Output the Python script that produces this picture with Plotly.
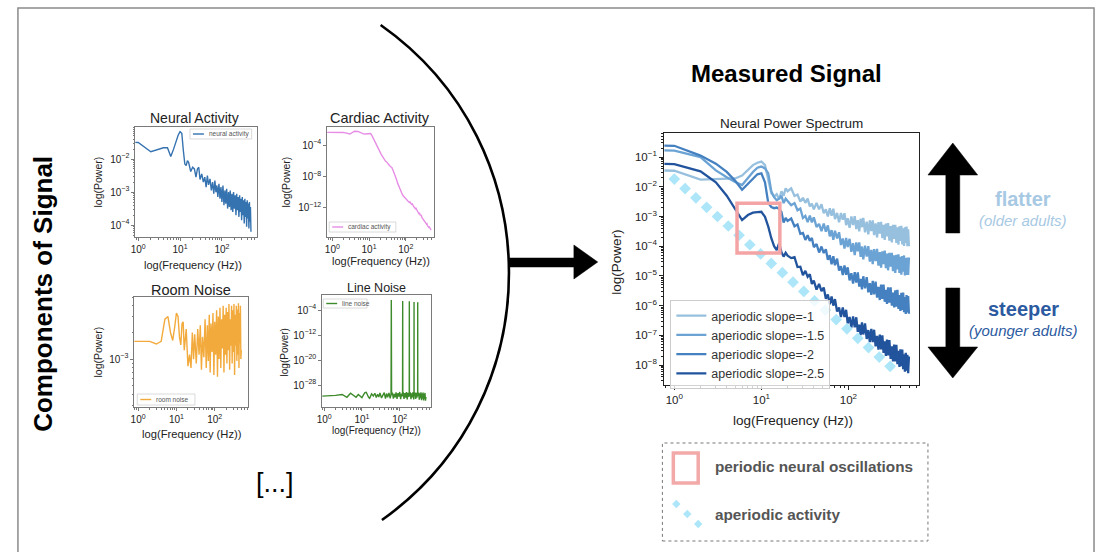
import plotly.graph_objects as go

W, H = 1099, 552
FONT = "Liberation Sans, Arial, Helvetica, sans-serif"

# ---------------- data (log10 power values) ----------------
F_MAIN = [0.5, 1, 2, 3, 4, 5, 6, 7, 8, 9, 10, 11, 12, 13, 14, 15, 16, 17, 18, 19, 20,
          22, 24, 26, 28, 30, 32, 34, 36, 38, 40,
          43, 46, 49, 52, 55, 58, 61, 64, 67, 70,
          74, 78, 82, 86, 90, 94, 98,
          103, 108, 113, 118, 123, 128, 133, 138, 143, 148,
          155, 162, 169, 176, 183, 190, 197,
          205, 213, 221, 229, 237, 245, 253, 261, 269, 277, 285,
          295, 305, 315, 325, 335, 345, 355, 365, 375, 385, 395,
          405, 415, 425, 435, 445, 455, 465, 475, 485, 495]

LOG_SLOPE_1 = [-1.44, -1.46, -1.76, -1.74, -1.74, -1.72, -1.62, -1.44, -1.27, -1.19, -1.15,
               -1.27, -1.77, -2.22, -2.33, -2.25, -2.42, -2.15, -2.30, -2.05, -2.15,
               -2.05, -2.31, -2.26, -2.50, -2.37, -2.54, -2.40, -2.66, -2.57, -2.76,
               -2.54, -2.76, -2.59, -2.89, -2.76, -3.00, -2.72, -2.97, -2.74, -3.09,
               -2.88, -3.19, -2.88, -3.11, -2.89, -3.29, -3.06,
               -3.38, -3.00, -3.29, -2.99, -3.42, -3.12, -3.50, -3.07, -3.36, -3.05,
               -3.53, -3.17, -3.60, -3.13, -3.49, -3.13, -3.63,
               -3.23, -3.70, -3.19, -3.58, -3.18, -3.73, -3.28, -3.79, -3.24, -3.67, -3.22,
               -3.81, -3.32, -3.87, -3.28, -3.75, -3.28, -3.89, -3.36, -3.95, -3.33, -3.82,
               -3.31, -3.94, -3.40, -3.99, -3.36, -3.89, -3.34, -4.00, -3.43, -4.00]

LOG_SLOPE_15 = [-0.76, -0.78, -1.00, -1.45, -1.68, -1.84, -1.94, -1.70, -1.50, -1.36, -1.32,
                -1.38, -1.55, -2.15, -2.35, -2.45, -2.40, -2.30, -2.55, -2.40, -2.48,
                -2.62, -2.55, -2.79, -2.73, -3.05, -2.98, -3.19, -2.97, -3.20, -3.03,
                -3.35, -3.25, -3.49, -3.24, -3.51, -3.30, -3.67, -3.46, -3.78, -3.48,
                -3.74, -3.53, -3.96, -3.74, -4.08, -3.72, -4.03,
                -3.75, -4.19, -3.90, -4.30, -3.87, -4.17, -3.87, -4.36, -4.01, -4.44,
                -3.98, -4.35, -4.00, -4.52, -4.12, -4.60, -4.10,
                -4.50, -4.09, -4.65, -4.20, -4.72, -4.17, -4.60, -4.15, -4.74, -4.25, -4.81,
                -4.22, -4.69, -4.22, -4.84, -4.31, -4.90, -4.29, -4.78, -4.27, -4.90, -4.36,
                -4.96, -4.33, -4.86, -4.31, -4.98, -4.40, -4.97, -4.38, -4.97, -4.38]

LOG_SLOPE_2 = [-0.60, -0.62, -0.95, -1.22, -1.50, -1.80, -2.10, -1.90, -1.70, -1.58, -1.55,
               -1.85, -2.55, -2.68, -2.72, -2.70, -2.75, -2.85, -3.20, -3.05, -3.15,
               -3.07, -3.33, -3.27, -3.58, -3.55, -3.79, -3.63, -3.82, -3.72, -4.03,
               -3.93, -4.21, -4.01, -4.23, -4.10, -4.46, -4.30, -4.61, -4.34, -4.64,
               -4.42, -4.82, -4.67, -4.97, -4.65, -4.96, -4.71,
               -5.15, -4.91, -5.26, -4.87, -5.22, -4.88, -5.36, -5.10, -5.45, -5.01,
               -5.42, -5.04, -5.55, -5.24, -5.64, -5.17, -5.62,
               -5.19, -5.73, -5.37, -5.81, -5.29, -5.77, -5.29, -5.87, -5.47, -5.94, -5.38,
               -5.90, -5.38, -6.00, -5.56, -6.06, -5.48, -6.03, -5.47, -6.11, -5.64, -6.18,
               -5.57, -6.14, -5.56, -6.22, -5.71, -6.28, -5.64, -6.23, -5.68, -6.27]

LOG_SLOPE_25 = [-1.21, -1.24, -1.48, -1.85, -2.30, -2.75, -3.12, -2.95, -2.87, -2.85, -2.84,
                -3.01, -3.34, -3.73, -4.00, -4.13, -3.90, -4.20, -4.35, -4.22, -4.32,
                -4.40, -4.37, -4.70, -4.69, -4.97, -4.83, -5.03, -4.94, -5.27, -5.16,
                -5.46, -5.27, -5.51, -5.39, -5.77, -5.62, -5.95, -5.69, -6.00, -5.78,
                -6.20, -6.06, -6.38, -6.06, -6.38, -6.14, -6.60,
                -6.38, -6.74, -6.36, -6.73, -6.39, -6.88, -6.64, -6.99, -6.56, -6.97,
                -6.60, -7.12, -6.82, -7.23, -6.78, -7.23, -6.81,
                -7.37, -7.02, -7.48, -6.97, -7.47, -7.00, -7.59, -7.20, -7.69, -7.14, -7.67,
                -7.16, -7.79, -7.37, -7.88, -7.31, -7.88, -7.32, -7.97, -7.52, -8.06, -7.47,
                -8.04, -7.48, -8.14, -7.64, -8.22, -7.59, -8.19, -7.65, -8.27, -7.71]

SLOPE_NAMES = ["aperiodic slope=-1", "aperiodic slope=-1.5", "aperiodic slope=-2", "aperiodic slope=-2.5"]

# aperiodic (1/f) reference diamonds
AP_FREQ = [1.00, 1.33, 1.77, 2.35, 3.13, 4.17, 5.54, 7.37, 9.80, 13.0, 17.4,
           23.1, 30.7, 40.8, 54.3, 72.3, 96.1, 128, 170, 226, 301]
AP_LOG_POWER = [-1.74, -2.06, -2.37, -2.69, -3.00, -3.32, -3.63, -3.95, -4.26, -4.58, -4.89,
                -5.21, -5.52, -5.84, -6.15, -6.47, -6.78, -7.10, -7.41, -7.73, -8.04]

# periodic oscillation highlight (Hz, power)
PERIODIC_BOX_HZ = [5.25, 16.3]
PERIODIC_BOX_POWER = [5.9e-5, 2.8e-3]

# component spectra
F_SMALL = [0.5, 1, 2, 3, 4, 5, 6, 7, 8, 9,
           10, 11, 12, 13, 14, 15, 16, 18, 20, 22,
           24, 26, 28, 30, 33, 36, 39, 42, 45, 48,
           52, 56, 60, 64, 68, 72, 76, 80, 85, 90,
           95, 100, 106, 112, 118, 124, 130, 137, 144, 151,
           158, 166, 174, 182, 190, 199, 208, 217, 226, 235,
           245, 255, 265, 275, 285, 296, 307, 318, 330, 342,
           354, 366, 378, 390, 403, 416, 429, 442, 455, 468,
           481, 495]

LOG_NEURAL = [-1.48, -1.50, -1.78, -1.70, -1.66, -1.66, -1.92, -1.70, -1.45, -1.28,
              -1.17, -1.22, -1.75, -2.15, -2.20, -2.05, -2.10, -2.38, -2.25, -2.30,
              -2.55, -2.30, -2.25, -2.62, -2.45, -2.70, -2.55, -2.85, -2.50, -2.78,
              -2.60, -2.95, -2.70, -3.05, -2.65, -3.00, -2.80, -3.15, -2.75, -3.20,
              -2.85, -3.30, -2.80, -3.40, -2.95, -3.35, -2.90, -3.50, -3.00, -3.45,
              -2.95, -3.55, -3.05, -3.60, -3.00, -3.50, -3.10, -3.70, -3.05, -3.55,
              -3.15, -3.75, -3.10, -3.60, -3.20, -3.85, -3.15, -3.70, -3.25, -3.95,
              -3.20, -3.75, -3.30, -4.05, -3.25, -3.80, -3.35, -4.10, -3.30, -3.90,
              -3.45, -4.20]

LOG_CARDIAC = [-2.39, -2.39, -2.40, -2.60, -2.25, -2.28, -2.45, -2.58, -2.60, -2.55,
               -2.50, -2.55, -2.80, -3.10, -3.40, -3.65, -3.95, -4.50, -4.90, -5.30,
               -5.60, -5.85, -6.05, -6.15, -6.45, -6.60, -6.78, -6.90, -7.20, -7.50,
               -7.95, -8.40, -8.85, -9.20, -9.55, -9.80, -10.05, -10.25, -10.45, -10.60,
               -10.75, -10.85, -11.00, -11.10, -11.20, -11.30, -11.25, -11.45, -11.55, -11.50,
               -11.75, -11.85, -11.95, -12.10, -12.05, -12.30, -12.45, -12.55, -12.70, -12.60,
               -12.90, -13.00, -12.95, -13.20, -13.30, -13.45, -13.40, -13.65, -13.75, -13.70,
               -13.90, -14.05, -14.00, -14.25, -14.35, -14.30, -14.50, -14.45, -14.65, -14.60,
               -14.75, -14.70]

LOG_ROOM = [-2.80, -2.80, -2.80, -2.83, -2.80, -2.55, -2.52, -2.70, -2.79, -2.64,
            -2.48, -2.52, -2.75, -2.84, -2.60, -2.58, -2.90, -2.66, -3.08, -2.95,
            -3.10, -2.70, -3.00, -2.72, -3.05, -2.66, -2.95, -2.62, -3.12, -2.75,
            -2.98, -2.55, -3.10, -2.62, -3.02, -2.50, -3.15, -2.60, -2.92, -2.48,
            -3.18, -2.58, -2.95, -2.45, -3.20, -2.52, -3.00, -2.42, -3.10, -2.55,
            -2.88, -2.40, -3.15, -2.50, -2.95, -2.42, -3.05, -2.47, -2.90, -2.38,
            -3.12, -2.55, -2.85, -2.40, -3.05, -2.45, -2.92, -2.38, -3.18, -2.50,
            -2.85, -2.40, -3.02, -2.44, -2.95, -2.37, -3.10, -2.48, -2.82, -2.40,
            -3.00, -2.90]

F_LINE = [0.5, 1, 2, 3, 4, 5, 6, 7, 8, 9,
          10, 11, 12, 13, 14, 15, 16, 18, 20, 22,
          24, 26, 28, 30, 33, 36, 39, 42, 45, 48,
          52, 56, 59, 60, 61, 64, 68, 72, 76, 80,
          85, 90, 95, 100, 106, 112, 119, 120, 121, 124,
          130, 137, 144, 151, 158, 166, 174, 179, 180, 181,
          190, 199, 208, 217, 226, 235, 239, 240, 241, 255,
          265, 275, 285, 296, 299, 300, 301, 318, 330, 342,
          354, 366, 378, 390, 403, 416, 429, 442, 455, 468,
          481, 495]

LOG_LINE = [-31.7, -31.6, -31.3, -31.0, -31.9, -30.6, -31.2, -31.9, -31.0, -31.4,
            -32.0, -31.1, -30.4, -30.3, -31.2, -31.9, -32.2, -30.8, -31.5, -30.6,
            -32.0, -30.9, -31.8, -30.5, -32.1, -31.0, -30.4, -32.3, -30.7, -31.9,
            -30.5, -32.2, -31.0, -0.8, -31.2, -30.4, -32.3, -30.8, -31.9, -30.3,
            -32.4, -30.6, -31.7, -30.2, -32.5, -30.7, -31.6, -1.1, -31.4, -30.3,
            -32.4, -30.6, -32.0, -30.2, -32.6, -30.5, -31.8, -30.9, -1.2, -31.5,
            -30.3, -32.5, -30.6, -31.9, -30.2, -32.6, -31.0, -1.4, -31.3, -30.4,
            -32.4, -30.5, -32.0, -30.3, -31.2, -1.5, -31.5, -30.4, -32.7, -30.6,
            -32.2, -30.3, -32.8, -30.7, -32.3, -30.4, -32.9, -30.8, -32.4, -30.5,
            -33.0, -31.8]

# ---------------- helpers ----------------
def px(x):
    return x / W


def py(y):
    return 1 - y / H


def pw(v):
    return [10 ** e for e in v]


def sup(e):
    s = str(e).replace("-", "\u2212")
    return "10<sup>" + s + "</sup>"


def minors(lo, hi):
    out = []
    for e in range(lo, hi + 1):
        for m in range(2, 10):
            out.append(m * 10.0 ** e)
    return out


fig = go.Figure()

MAIN_COLORS = ["#97c0de", "#6ba3d4", "#4580c0", "#22549e"]
for name, vals, col in zip(SLOPE_NAMES, [LOG_SLOPE_1, LOG_SLOPE_15, LOG_SLOPE_2, LOG_SLOPE_25], MAIN_COLORS):
    fig.add_trace(go.Scatter(x=F_MAIN, y=pw(vals), mode="lines", name=name,
                             line=dict(color=col, width=2.3), xaxis="x5", yaxis="y5",
                             showlegend=True))
fig.add_trace(go.Scatter(x=AP_FREQ, y=pw(AP_LOG_POWER), mode="markers", name="aperiodic activity",
                         marker=dict(symbol="diamond", size=9, color="#ade6f9", line=dict(width=0)),
                         xaxis="x5", yaxis="y5", showlegend=False))

small = [
    (F_SMALL, LOG_NEURAL, "#3572b0", "x", "y"),
    (F_SMALL, LOG_CARDIAC, "#e78de6", "x2", "y2"),
    (F_SMALL, LOG_ROOM, "#f3aa3c", "x3", "y3"),
    (F_LINE, LOG_LINE, "#3e8b2c", "x4", "y4"),
]
for fx, vals, col, xa, ya in small:
    fig.add_trace(go.Scatter(x=fx, y=pw(vals), mode="lines", line=dict(color=col, width=1.4),
                             xaxis=xa, yaxis=ya, showlegend=False, hoverinfo="skip"))

# ---------------- axes ----------------
def axes(n, box, xr, yr, ytv, small_ax=True, yminor=None, xminor=True):
    x0, x1, y0, y1 = box  # pixel box: left, right, top, bottom
    lc = "#7a7a7a" if small_ax else "#222222"
    tf = dict(family=FONT, size=10 if small_ax else 11.5, color="#222")
    sx = "" if n == 1 else str(n)
    xa = dict(type="log", range=xr, domain=[px(x0), px(x1)], anchor="y" + sx,
              showline=True, mirror=True, linecolor=lc, linewidth=1 if small_ax else 1.3,
              ticks="outside", ticklen=3 if small_ax else 4, tickcolor=lc, tickwidth=1,
              tickmode="array", tickvals=[1, 10, 100], ticktext=[sup(0), sup(1), sup(2)],
              tickfont=tf, showgrid=False, zeroline=False)
    if xminor:
        xa["minor"] = dict(tickmode="array", tickvals=minors(-1, 2), ticks="outside",
                           ticklen=1.6 if small_ax else 2.2, tickcolor=lc, showgrid=False)
    ya = dict(type="log", range=yr, domain=[py(y1), py(y0)], anchor="x" + sx,
              showline=True, mirror=True, linecolor=lc, linewidth=1 if small_ax else 1.3,
              ticks="outside", ticklen=3 if small_ax else 4, tickcolor=lc, tickwidth=1,
              tickmode="array", tickvals=[10.0 ** e for e in ytv], ticktext=[sup(e) for e in ytv],
              tickfont=tf, showgrid=False, zeroline=False)
    if yminor is not None:
        ya["minor"] = dict(tickmode="array", tickvals=minors(*yminor), ticks="outside",
                           ticklen=1.6 if small_ax else 2.2, tickcolor=lc, showgrid=False)
    return {"xaxis" + sx: xa, "yaxis" + sx: ya}


lay = {}
lay.update(axes(1, (130, 252, 127, 237), [-0.07, 2.83], [-4.36, -1.03], [-2, -3, -4], yminor=(-5, -2)))
lay.update(axes(2, (323, 430, 127, 237), [-0.14, 2.76], [-15.7, -1.71], [-4, -8, -12]))
lay.update(axes(3, (129, 243, 297, 407), [-0.10, 2.86], [-3.54, -2.30], [-3], yminor=(-4, -3)))
lay.update(axes(4, (318, 427, 295, 407), [-0.05, 2.82], [-35, 0.8], [-4, -12, -20, -28]))
lay.update(axes(5, (662, 918, 133, 385), [-0.114, 2.81], [-8.67, -0.19],
                [-1, -2, -3, -4, -5, -6, -7, -8], small_ax=False, yminor=(-9, -1)))
fig.update_layout(**lay)

# ---------------- shapes ----------------
shapes = []
# outer frame
shapes.append(dict(type="rect", xref="paper", yref="paper", x0=px(12), x1=px(1094), y0=py(8), y1=py(620),
                   line=dict(color="#8a8a8a", width=1.5), fillcolor="rgba(0,0,0,0)", layer="below"))
# arc
shapes.append(dict(type="path", xref="paper", yref="paper",
                   path="M %f,%f C %f,%f %f,%f %f,%f" % (px(376.7), py(25), px(548.5), py(145),
                                                        px(548.5), py(400), px(378), py(520)),
                   line=dict(color="black", width=2.6)))
# horizontal arrow
pts = [(506, 258), (571, 258), (571, 245), (595, 262), (571, 279), (571, 267), (506, 267)]
shapes.append(dict(type="path", xref="paper", yref="paper",
                   path="M " + " L ".join("%f,%f" % (px(a), py(b)) for a, b in pts) + " Z",
                   fillcolor="black", line=dict(color="black", width=0.5)))
# up arrow
pts = [(952, 143), (977, 175), (959, 175), (959, 233), (945, 233), (945, 175), (927, 175)]
shapes.append(dict(type="path", xref="paper", yref="paper",
                   path="M " + " L ".join("%f,%f" % (px(a), py(b)) for a, b in pts) + " Z",
                   fillcolor="black", line=dict(color="black", width=0.5)))
# down arrow
pts = [(945, 288), (959, 288), (959, 347), (977, 347), (952, 378), (927, 347), (945, 347)]
shapes.append(dict(type="path", xref="paper", yref="paper",
                   path="M " + " L ".join("%f,%f" % (px(a), py(b)) for a, b in pts) + " Z",
                   fillcolor="black", line=dict(color="black", width=0.5)))
# periodic box on main plot (data coords)
shapes.append(dict(type="rect", xref="x5", yref="y5", x0=PERIODIC_BOX_HZ[0], x1=PERIODIC_BOX_HZ[1],
                   y0=PERIODIC_BOX_POWER[0], y1=PERIODIC_BOX_POWER[1],
                   line=dict(color="#f4a4a4", width=3.5), fillcolor="rgba(0,0,0,0)"))
# bottom key box
shapes.append(dict(type="rect", xref="paper", yref="paper", x0=px(660), x1=px(927), y0=py(541), y1=py(443),
                   line=dict(color="#777", width=1, dash="dot"), fillcolor="rgba(0,0,0,0)"))
shapes.append(dict(type="rect", xref="paper", yref="paper", x0=px(671), x1=px(696), y0=py(483), y1=py(453),
                   line=dict(color="#f4a9a9", width=3.5), fillcolor="rgba(0,0,0,0)"))
for cx, cy in [(674, 504), (685, 514), (696, 524)]:
    d = 4.2
    shapes.append(dict(type="path", xref="paper", yref="paper",
                       path="M %f,%f L %f,%f L %f,%f L %f,%f Z" % (px(cx), py(cy - d), px(cx + d), py(cy),
                                                                px(cx), py(cy + d), px(cx - d), py(cy)),
                       fillcolor="#ade6f9", line=dict(width=0)))

# mini legends for component plots
mini = [
    ((185, 247, 129, 139), "#3572b0", "neural activity"),
    ((325, 392, 222, 232), "#e78de6", "cardiac activity"),
    ((132, 190, 394, 405), "#f3aa3c", "room noise"),
    ((319, 363, 299, 308), "#3e8b2c", "line noise"),
]
annotations = []
for (l, r, t, b), col, txt in mini:
    shapes.append(dict(type="rect", xref="paper", yref="paper", x0=px(l), x1=px(r), y0=py(b), y1=py(t),
                       line=dict(color="#d0d0d0", width=0.8), fillcolor="white"))
    ym = (t + b) / 2
    shapes.append(dict(type="line", xref="paper", yref="paper", x0=px(l + 3), x1=px(l + 14), y0=py(ym), y1=py(ym),
                       line=dict(color=col, width=1.4)))
    annotations.append(dict(text=txt, x=px(l + 17), y=py(ym), xref="paper", yref="paper", showarrow=False,
                            xanchor="left", yanchor="middle", font=dict(family=FONT, size=6.5, color="#555")))

fig.update_layout(shapes=shapes)


def ann(text, x, y, size, color="#111", angle=0, xanchor="center"):
    annotations.append(dict(text=text, x=px(x), y=py(y), xref="paper", yref="paper", showarrow=False,
                            xanchor=xanchor, yanchor="middle", textangle=angle,
                            font=dict(family=FONT, size=size, color=color)))


# titles / labels
ann("<b>Components of Signal</b>", 37, 294, 26, "#000", angle=-90)
ann("<b>Measured Signal</b>", 785, 73, 24, "#000")
ann("Neural Activity", 190, 118, 14, "#222")
ann("Cardiac Activity", 376, 118, 14.5, "#222")
ann("Room Noise", 186, 290, 14.5, "#222")
ann("Line Noise", 373, 288, 12.5, "#222")
ann("Neural Power Spectrum", 790, 123, 13.5, "#222")
for xx, yy, s in [(188, 265, 11), (377, 261, 11), (187, 434, 11.2), (373, 430, 10)]:
    ann("log(Frequency (Hz))", xx, yy, s, "#222")
for xx, yy, s in [(93, 182, 10.5), (282, 182, 10.5), (93, 352, 10.5), (281, 352, 10)]:
    ann("log(Power)", xx, yy, s, "#222", angle=-90)
ann("log(Frequency (Hz))", 791, 421, 13.5, "#222")
ann("log(Power)", 613, 262, 13.5, "#222", angle=-90)
ann("[...]", 270, 483, 27, "#000")
ann("<b>flatter</b>", 1023, 199, 20, "#a7c9e3")
ann("<i>(older adults)</i>", 1023, 220, 15, "#a7c9e3")
ann("<b>steeper</b>", 1023, 309, 20, "#2c5aa0")
ann("<i>(younger adults)</i>", 1023, 330, 15, "#2c5aa0")
ann("<b>periodic neural oscillations</b>", 711, 466, 15.3, "#555", xanchor="left")
ann("<b>aperiodic activity</b>", 711, 514, 15.3, "#555", xanchor="left")

fig.update_layout(
    annotations=annotations,
    width=W, height=H,
    margin=dict(l=0, r=0, t=0, b=0),
    paper_bgcolor="white", plot_bgcolor="white",
    font=dict(family=FONT, color="#222"),
    showlegend=True,
    legend=dict(x=px(668), y=py(300), xanchor="left", yanchor="top",
                bgcolor="rgba(255,255,255,0.8)", bordercolor="#cccccc", borderwidth=1,
                font=dict(family=FONT, size=12.5, color="#333"), itemwidth=30,
                tracegroupgap=0),
)

fig.write_html("out.html", config={"displayModeBar": False},
               post_script="document.body.style.margin='0';document.body.style.overflow='hidden';")
